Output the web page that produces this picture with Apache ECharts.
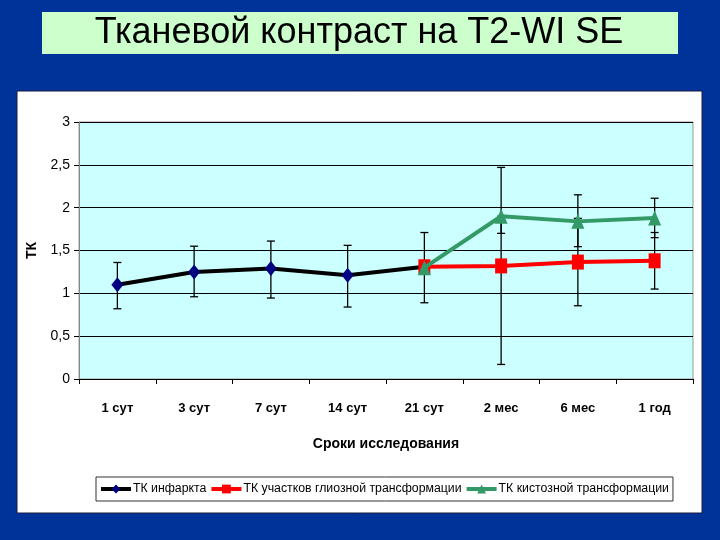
<!DOCTYPE html>
<html><head><meta charset="utf-8">
<script src="https://cdn.jsdelivr.net/npm/echarts@6/dist/echarts.min.js"></script>
<style>html,body{margin:0;padding:0;background:#003399}#c{width:720px;height:540px}</style>
</head><body><div id="c"></div>
<script>
const categories = ['1 сут','3 сут','7 сут','14 сут','21 сут','2 мес','6 мес','1 год'];
const infarct = [1.10, 1.25, 1.29, 1.21, 1.31, null, null, null];
const glial = [null, null, null, null, 1.31, 1.32, 1.365, 1.38];
const cyst = [null, null, null, null, 1.30, 1.90, 1.84, 1.88];
const infarctLow = [0.82, 0.96, 0.945, 0.84, 0.89, null, null, null];
const infarctHigh = [1.36, 1.55, 1.61, 1.56, 1.71, null, null, null];
const glialLow = [null, null, null, null, null, 0.17, 0.855, 1.05];
const glialHigh = [null, null, null, null, null, 2.47, 1.875, 1.71];
const cystLow = [null, null, null, null, null, 1.70, 1.545, 1.65];
const cystHigh = [null, null, null, null, null, 1.90, 2.15, 2.11];
const yTicks = ['0','0,5','1','1,5','2','2,5','3'];
const names = ['ТК инфаркта','ТК участков глиозной трансформации','ТК кистозной трансформации'];
const title = 'Тканевой контраст на T2-WI SE';

const FONT = "'Liberation Sans',Arial,sans-serif";

function errData(low, high){
  const out = [];
  for (let i = 0; i < categories.length; i++) {
    if (low[i] != null && high[i] != null) out.push([i, low[i], high[i]]);
  }
  return out;
}
function errSeries(low, high){
  return {
    type: 'custom', z: 1, silent: true,
    data: errData(low, high),
    encode: {x: 0, y: [1, 2]},
    renderItem: function(params, api){
      const x = api.value(0);
      const lo = api.coord([x, api.value(1)]);
      const hi = api.coord([x, api.value(2)]);
      const w = 4;
      const st = {stroke: '#000', lineWidth: 1.3};
      return {type: 'group', children: [
        {type: 'line', shape: {x1: lo[0], y1: lo[1], x2: hi[0], y2: hi[1]}, style: st},
        {type: 'line', shape: {x1: lo[0]-w, y1: lo[1], x2: lo[0]+w, y2: lo[1]}, style: st},
        {type: 'line', shape: {x1: hi[0]-w, y1: hi[1], x2: hi[0]+w, y2: hi[1]}, style: st}
      ]};
    }
  };
}

const chart = echarts.init(document.getElementById('c'), null, {renderer: 'canvas'});
chart.setOption({
  backgroundColor: '#003399',
  animation: false,
  graphic: [
    {type: 'rect', z: -10, shape: {x: 42, y: 12, width: 636, height: 42}, style: {fill: '#ccffcc'}},
    {type: 'text', z: -9, x: 359, y: 33, style: {text: title, font: "36px 'Liberation Sans',Arial,sans-serif", fill: '#000', align: 'center', verticalAlign: 'middle'}},
    {type: 'rect', z: -10, shape: {x: 17, y: 91, width: 685, height: 422}, style: {fill: '#ffffff', stroke: '#1a1a40', lineWidth: 1}}
  ],
  grid: {left: 79, right: 27, top: 122, bottom: 161, show: true, backgroundColor: '#ccffff', borderColor: '#999999', borderWidth: 1},
  legend: {
    left: 96, top: 477, width: 680, itemGap: 3, itemWidth: 30, itemHeight: 11,
    backgroundColor: '#ffffff', borderColor: '#333333', borderWidth: 1, padding: [6, 4, 6, 3],
    lineStyle: {width: 4},
    textStyle: {fontFamily: FONT, fontSize: 12.3, color: '#000', padding: [0, 0, 0, -3]},
    data: names
  },
  xAxis: {
    type: 'category', data: categories, boundaryGap: true,
    name: 'Сроки исследования', nameLocation: 'middle', nameGap: 58,
    nameTextStyle: {fontFamily: FONT, fontWeight: 'bold', fontSize: 14, color: '#000'},
    axisLine: {lineStyle: {color: '#000', width: 1}},
    axisTick: {show: true, alignWithLabel: false, length: 5, lineStyle: {color: '#000'}},
    axisLabel: {interval: 0, margin: 23, fontFamily: FONT, fontWeight: 'bold', fontSize: 13, color: '#000'},
    splitLine: {show: false}
  },
  yAxis: {
    type: 'value', min: 0, max: 3, interval: 0.5,
    name: 'ТК', nameLocation: 'middle', nameGap: 33, nameRotate: 90,
    nameTextStyle: {fontFamily: FONT, fontWeight: 'bold', fontSize: 14, color: '#000'},
    axisLine: {show: true, lineStyle: {color: '#888', width: 1}},
    axisTick: {show: true, length: 5, lineStyle: {color: '#000'}},
    axisLabel: {margin: 9, fontFamily: FONT, fontSize: 14, color: '#000',
      formatter: function(v){ return yTicks[Math.round(v / 0.5)]; }},
    splitLine: {show: true, lineStyle: {color: '#000', width: 1}}
  },
  series: [
    errSeries(infarctLow, infarctHigh),
    errSeries(glialLow, glialHigh),
    errSeries(cystLow, cystHigh),
    {name: names[0], type: 'line', z: 3, data: infarct, connectNulls: false,
      symbol: 'diamond', symbolSize: [12, 15], showAllSymbol: true,
      lineStyle: {color: '#000000', width: 4}, itemStyle: {color: '#000080'}},
    {name: names[1], type: 'line', z: 4, data: glial,
      symbol: 'rect', symbolSize: [12, 15],
      lineStyle: {color: '#ff0000', width: 4}, itemStyle: {color: '#ff0000'}},
    {name: names[2], type: 'line', z: 5, data: cyst,
      symbol: 'triangle', symbolSize: [13, 15],
      lineStyle: {color: '#339966', width: 4}, itemStyle: {color: '#339966'}}
  ]
});
</script></body></html>
